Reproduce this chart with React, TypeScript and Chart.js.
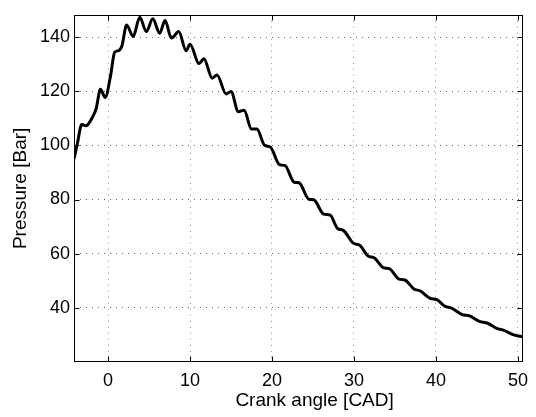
import React, { useEffect, useRef } from "react";
import { Chart, registerables } from "chart.js";

Chart.register(...registerables);

const crankAngle = [
  -4.15, -3.75, -3.2, -2.7, -1.9, -1.45, -0.92, -0.35, 0.3, 0.8, 1.3, 1.7,
  2.27, 3.07, 3.87, 4.67, 5.46, 6.3, 6.95, 7.74, 8.62, 9.53, 10.0, 11.1, 11.7,
  12.7, 13.3, 14.4, 15.0, 15.9, 16.6, 17.5, 18.15, 19.1, 19.8, 20.9, 21.6,
  22.7, 23.3, 24.5, 25.1, 26.3, 27.1, 28.0, 28.7, 29.9, 30.7, 31.7, 32.5,
  33.6, 34.3, 35.5, 36.2, 37.3, 38.1, 39.3, 40.1, 41.1, 41.9, 43.2, 44.1,
  45.3, 46.3, 47.5, 48.3, 49.5, 50.6,
];

const pressure = [
  95.0, 100.5, 107.7, 107.2, 110.4, 113.5, 120.7, 117.7, 125.5, 134.3, 135.0,
  136.8, 144.4, 140.2, 147.3, 142.0, 146.7, 141.4, 146.1, 139.6, 142.0, 134.9,
  137.3, 130.2, 132.0, 124.8, 126.0, 119.0, 119.9, 112.4, 113.0, 106.0, 106.0,
  100.0, 99.4, 92.9, 92.5, 86.4, 86.2, 80.1, 79.9, 74.6, 74.2, 69.3, 68.6,
  63.9, 63.1, 59.2, 58.4, 54.8, 54.5, 50.6, 50.3, 47.0, 46.2, 43.5, 43.0,
  40.6, 39.9, 37.5, 37.0, 35.0, 34.3, 32.3, 31.7, 30.0, 29.3,
];

const xTicks = [0, 10, 20, 30, 40, 50];
const yTicks = [40, 60, 80, 100, 120, 140];

const xLabel = "Crank angle [CAD]";
const yLabel = "Pressure [Bar]";

const FONT = "'Liberation Sans', Arial, Helvetica, sans-serif";

const framePlugin = {
  id: "matlabFrame",
  afterDraw(chart: any) {
    const { ctx, chartArea, scales } = chart;
    const { left, right, top, bottom } = chartArea;
    ctx.save();
    ctx.strokeStyle = "#000";
    ctx.lineWidth = 1;
    const L = Math.round(left) + 0.5;
    const R = Math.round(right) - 0.5;
    const T = Math.round(top) + 0.5;
    const B = Math.round(bottom) - 0.5;
    ctx.strokeRect(L, T, R - L, B - T);
    const len = 5;
    ctx.beginPath();
    for (const v of xTicks) {
      const px = Math.round(scales.x.getPixelForValue(v)) + 0.5;
      ctx.moveTo(px, B);
      ctx.lineTo(px, B - len);
      ctx.moveTo(px, T);
      ctx.lineTo(px, T + len);
    }
    for (const v of yTicks) {
      const py = Math.round(scales.y.getPixelForValue(v)) + 0.5;
      ctx.moveTo(L, py);
      ctx.lineTo(L + len, py);
      ctx.moveTo(R, py);
      ctx.lineTo(R - len, py);
    }
    ctx.stroke();

    // x-axis title (placed like the reference, slightly right of axes centre)
    ctx.fillStyle = "#000";
    ctx.font = `19px ${FONT}`;
    ctx.textAlign = "center";
    ctx.textBaseline = "middle";
    ctx.fillText(xLabel, left + (right - left) * 0.536, bottom + 39);
    ctx.restore();
  },
};

export default function App() {
  const canvasRef = useRef<HTMLCanvasElement | null>(null);

  useEffect(() => {
    const canvas = canvasRef.current;
    if (!canvas) return;
    const points = crankAngle.map((x, i) => ({ x, y: pressure[i] }));
    const chart = new Chart(canvas, {
      type: "line",
      data: {
        datasets: [
          {
            data: points,
            borderColor: "#000",
            borderWidth: 3,
            pointRadius: 0,
            fill: false,
            cubicInterpolationMode: "monotone",
          },
        ],
      },
      options: {
        animation: false,
        responsive: true,
        maintainAspectRatio: false,
        layout: { padding: { top: 1, right: 5, left: 0, bottom: 0 } },
        plugins: {
          legend: { display: false },
          tooltip: { enabled: false },
        },
        scales: {
          x: {
            type: "linear",
            min: -4.15,
            max: 50.6,
            afterBuildTicks: (scale: any) => {
              scale.ticks = xTicks.map((v) => ({ value: v }));
            },
            afterFit: (scale: any) => {
              scale.height = 55;
            },
            grid: {
              color: "rgba(0,0,0,0.45)",
              lineWidth: 1,
              drawTicks: false,
            },
            border: { display: false, dash: [1, 5] },
            ticks: {
              color: "#000",
              padding: 8,
              maxRotation: 0,
              font: { family: FONT, size: 18 },
            },
            title: { display: false, text: xLabel },
          },
          y: {
            type: "linear",
            min: 20,
            max: 148.2,
            afterBuildTicks: (scale: any) => {
              scale.ticks = yTicks.map((v) => ({ value: v }));
            },
            afterFit: (scale: any) => {
              scale.width = 74;
            },
            grid: {
              color: "rgba(0,0,0,0.6)",
              lineWidth: 1,
              drawTicks: false,
            },
            border: { display: false, dash: [1, 5] },
            ticks: {
              color: "#000",
              padding: 4,
              font: { family: FONT, size: 18 },
            },
            title: {
              display: true,
              text: yLabel,
              color: "#000",
              font: { family: FONT, size: 19 },
              padding: { top: 9, bottom: 0 },
            },
          },
        },
      },
      plugins: [framePlugin],
    });
    return () => chart.destroy();
  }, []);

  return (
    <div
      style={{
        position: "fixed",
        left: 0,
        top: 0,
        width: 536,
        height: 417,
        background: "#fff",
      }}
    >
      <canvas ref={canvasRef} />
    </div>
  );
}
